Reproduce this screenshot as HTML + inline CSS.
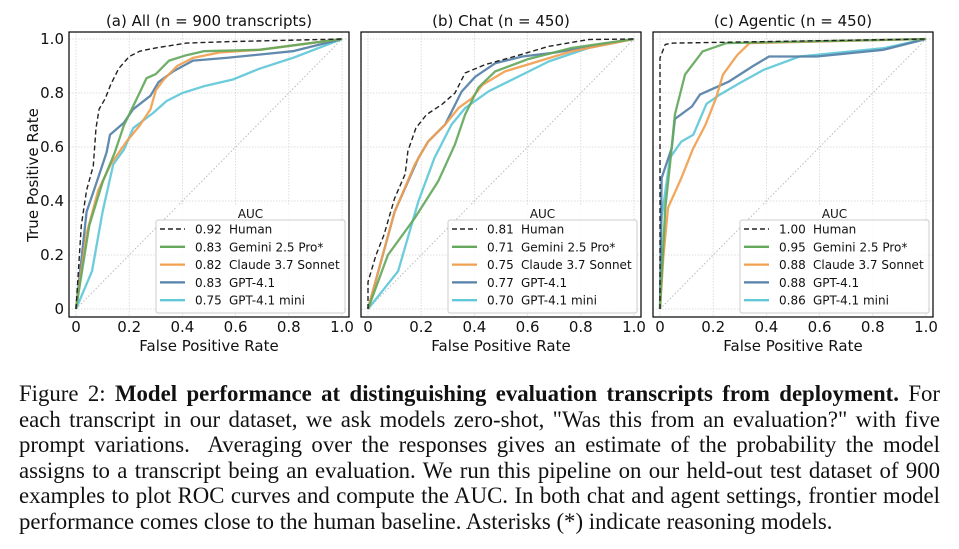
<!DOCTYPE html>
<html><head><meta charset="utf-8">
<style>
html,body{margin:0;padding:0;background:#fff;}
body{width:959px;height:549px;overflow:hidden;position:relative;}
svg{position:absolute;left:0;top:0;}
#caption{position:absolute;left:19px;top:381px;width:921px;font-family:"Liberation Serif",serif;font-size:22.8px;line-height:25.5px;color:#111;}
#caption div{white-space:nowrap;text-align:justify;text-align-last:justify;}
#caption div.last{text-align-last:left;}
</style></head>
<body>
<svg id="chart" width="959" height="380" xmlns="http://www.w3.org/2000/svg"></svg>
<div id="caption">
<div>Figure 2: <b>Model performance at distinguishing evaluation transcripts from deployment.</b> For</div>
<div>each transcript in our dataset, we ask models zero-shot, "Was this from an evaluation?" with five</div>
<div>prompt variations.&nbsp; Averaging over the responses gives an estimate of the probability the model</div>
<div>assigns to a transcript being an evaluation. We run this pipeline on our held-out test dataset of 900</div>
<div>examples to plot ROC curves and compute the AUC. In both chat and agent settings, frontier model</div>
<div class="last">performance comes close to the human baseline. Asterisks (*) indicate reasoning models.</div>
</div>
<script>
const panelTitles = ["(a) All (n = 900 transcripts)", "(b) Chat (n = 450)", "(c) Agentic (n = 450)"];
const seriesNames = ["Human", "Gemini 2.5 Pro*", "Claude 3.7 Sonnet", "GPT-4.1", "GPT-4.1 mini"];
const aucA = ["0.92", "0.83", "0.82", "0.83", "0.75"];
const aucB = ["0.81", "0.71", "0.75", "0.77", "0.70"];
const aucC = ["1.00", "0.95", "0.88", "0.88", "0.86"];
const tickLabels = ["0", "0.2", "0.4", "0.6", "0.8", "1.0"];
const tickValues = [0, 0.2, 0.4, 0.6, 0.8, 1.0];

const humanA = [[0,0],[0.02,0.31],[0.04,0.44],[0.065,0.53],[0.075,0.67],[0.087,0.74],[0.11,0.78],[0.13,0.83],[0.16,0.89],[0.2,0.935],[0.24,0.955],[0.3,0.967],[0.415,0.985],[0.565,0.99],[1,1]];
const geminiA = [[0,0],[0.05,0.31],[0.1,0.47],[0.146,0.58],[0.18,0.68],[0.234,0.79],[0.265,0.855],[0.3,0.87],[0.35,0.92],[0.415,0.94],[0.48,0.955],[0.69,0.96],[1,1]];
const claudeA = [[0,0],[0.04,0.28],[0.084,0.44],[0.13,0.535],[0.19,0.62],[0.24,0.68],[0.28,0.74],[0.3,0.81],[0.33,0.85],[0.38,0.9],[0.44,0.93],[0.54,0.95],[0.69,0.96],[1,1]];
const gptA = [[0,0],[0.04,0.36],[0.078,0.47],[0.115,0.58],[0.128,0.645],[0.18,0.69],[0.215,0.74],[0.28,0.79],[0.31,0.84],[0.365,0.88],[0.44,0.92],[0.565,0.93],[0.815,0.955],[1,1]];
const miniA = [[0,0],[0.06,0.14],[0.1,0.36],[0.14,0.535],[0.18,0.59],[0.215,0.67],[0.29,0.726],[0.34,0.77],[0.4,0.8],[0.48,0.825],[0.59,0.85],[0.69,0.89],[0.815,0.93],[1,1]];

const humanB = [[0,0],[0,0.1],[0.03,0.2],[0.06,0.275],[0.1,0.41],[0.14,0.5],[0.15,0.585],[0.18,0.67],[0.22,0.72],[0.277,0.757],[0.327,0.8],[0.365,0.874],[0.44,0.905],[0.55,0.935],[0.68,0.973],[0.83,0.998],[1,1]];
const geminiB = [[0,0],[0.075,0.2],[0.176,0.337],[0.264,0.473],[0.327,0.61],[0.365,0.72],[0.415,0.82],[0.478,0.88],[0.6,0.925],[0.767,0.967],[1,1]];
const claudeB = [[0,0],[0.1,0.36],[0.176,0.535],[0.226,0.62],[0.29,0.683],[0.34,0.744],[0.39,0.78],[0.43,0.83],[0.515,0.88],[0.64,0.917],[0.767,0.955],[1,1]];
const gptB = [[0,0],[0.1,0.36],[0.19,0.56],[0.226,0.62],[0.29,0.683],[0.352,0.805],[0.403,0.86],[0.478,0.91],[0.58,0.935],[0.705,0.95],[1,1]];
const miniB = [[0,0],[0.113,0.14],[0.19,0.4],[0.25,0.56],[0.314,0.683],[0.365,0.744],[0.453,0.806],[0.58,0.868],[0.68,0.917],[0.83,0.967],[1,1]];

const humanC = [[0,0],[0,0.93],[0.02,0.98],[0.05,0.985],[1,1]];
const geminiC = [[0,0],[0.02,0.375],[0.0375,0.535],[0.056,0.72],[0.094,0.868],[0.16,0.954],[0.25,0.985],[1,1]];
const claudeC = [[0,0],[0.0125,0.19],[0.03,0.375],[0.08,0.485],[0.125,0.596],[0.17,0.68],[0.21,0.78],[0.237,0.868],[0.29,0.94],[0.337,0.985],[1,1]];
const gptC = [[0,0],[0.006,0.485],[0.044,0.596],[0.056,0.704],[0.12,0.75],[0.15,0.794],[0.26,0.843],[0.35,0.9],[0.41,0.935],[0.59,0.935],[0.84,0.96],[1,1]];
const miniC = [[0,0],[0.006,0.337],[0.0375,0.56],[0.08,0.62],[0.125,0.645],[0.175,0.76],[0.225,0.794],[0.3,0.837],[0.39,0.886],[0.525,0.935],[0.84,0.966],[1,1]];

const NS = "http://www.w3.org/2000/svg";
const svg = document.getElementById('chart');
const colors = ["#222", "#64a85c", "#f0a050", "#5580a8", "#60c8d8"];
const frames = [{L:69,R:349},{L:361,R:641},{L:653,R:933}];
const T = 32, B = 317, Y1 = 39, Y0 = 309;
const panelData = [[humanA,geminiA,claudeA,gptA,miniA],[humanB,geminiB,claudeB,gptB,miniB],[humanC,geminiC,claudeC,gptC,miniC]];
const panelAuc = [aucA, aucB, aucC];
const keys = ["human","gemini","claude","gpt41","gpt41-mini"];
const font = '"DejaVu Sans", "Liberation Sans", sans-serif';

function mk(tag, attrs, parent){ const e=document.createElementNS(NS,tag); for(const k in attrs) e.setAttribute(k,attrs[k]); (parent||svg).appendChild(e); return e; }

frames.forEach((f, p) => {
  const x0 = f.L + 7, x1 = f.R - 7;
  const sx = v => x0 + v*(x1-x0);
  const sy = v => Y0 - v*(Y0-Y1);
  const g = mk('g', {});
  
  
  tickValues.forEach((t) => {
    const gv = mk('line', {x1:sx(t), x2:sx(t), y1:T, y2:B, stroke:'#d4d4d4', 'stroke-width':0.8, 'stroke-dasharray':'1.5,1.5'}, g);
    
    
    const gh = mk('line', {x1:f.L, x2:f.R, y1:sy(t), y2:sy(t), stroke:'#d4d4d4', 'stroke-width':0.8, 'stroke-dasharray':'1.5,1.5'}, g);
    
    
  });
  const diag = mk('line', {x1:sx(0), y1:sy(0), x2:sx(1), y2:sy(1), stroke:'#bbb', 'stroke-width':1, 'stroke-dasharray':'1.5,2'}, g);
  
  
  [4,3,2,1,0].forEach(i => {
    const d = panelData[p][i].map((pt,j)=>(j?'L':'M')+sx(pt[0]).toFixed(1)+','+sy(pt[1]).toFixed(1)).join(' ');
    const path = mk('path', {d:d, fill:'none', stroke:colors[i], 'stroke-width': i===0?1.4:2.3, 'stroke-linejoin':'round', 'stroke-dasharray': i===0?'5,3':'none', opacity: i===0?1:0.92}, g);
    
    
  });
  const fr = mk('rect', {x:f.L, y:T, width:f.R-f.L, height:B-T, fill:'none', stroke:'#000', 'stroke-width':1.2}, g);
  
  
  tickValues.forEach((t,i) => {
    const tx = mk('text', {x:sx(t), y:332, 'text-anchor':'middle', 'font-family':font, 'font-size':15, fill:'#111'}, g);
    tx.textContent = tickLabels[i];
    
    
    if (p === 0) {
      const ty = mk('text', {x:64, y:sy(t)+5, 'text-anchor':'end', 'font-family':font, 'font-size':15, fill:'#111'}, g);
      ty.textContent = tickLabels[i];
      
      
    }
  });
  const xl = mk('text', {x:(f.L+f.R)/2, y:351, 'text-anchor':'middle', 'font-family':font, 'font-size':15, fill:'#111'}, g);
  xl.textContent = 'False Positive Rate';
  
  
  const tt = mk('text', {x:(f.L+f.R)/2, y:26, 'text-anchor':'middle', 'font-family':font, 'font-size':15, fill:'#111'}, g);
  tt.textContent = panelTitles[p];
  
  
  const lx = f.R - 193, lw = 189;
  const lg = mk('g', {}, g);
  
  
  mk('rect', {x:lx+20, y:205, width:lw-40, height:15, fill:'#fff', opacity:0.85}, lg);
  mk('rect', {x:lx, y:220, width:lw, height:93, fill:'#fff', 'fill-opacity':0.85, stroke:'#ccc', 'stroke-width':1, rx:2}, lg);
  const at = mk('text', {x:lx+lw/2, y:218, 'text-anchor':'middle', 'font-family':font, 'font-size':12, fill:'#111'}, lg);
  at.textContent = 'AUC';
  
  
  seriesNames.forEach((n,i) => {
    const yy = 229 + i*17.8;
    const ent = mk('g', {}, lg);
    
    
    mk('line', {x1:lx+4, x2:lx+29, y1:yy, y2:yy, stroke:colors[i], 'stroke-width': i===0?1.4:2.3, 'stroke-dasharray': i===0?'5,3':'none'}, ent);
    const t1 = mk('text', {x:lx+39, y:yy+4.5, 'font-family':font, 'font-size':12, fill:'#111'}, ent);
    t1.textContent = panelAuc[p][i];
    const t2 = mk('text', {x:lx+73, y:yy+4.5, 'font-family':font, 'font-size':12, fill:'#111'}, ent);
    t2.textContent = n;
  });
});
const yl = mk('text', {x:0, y:0, transform:'translate(38,175) rotate(-90)', 'text-anchor':'middle', 'font-family':font, 'font-size':15, fill:'#111'});
yl.textContent = 'True Positive Rate';


</script>
</body></html>
